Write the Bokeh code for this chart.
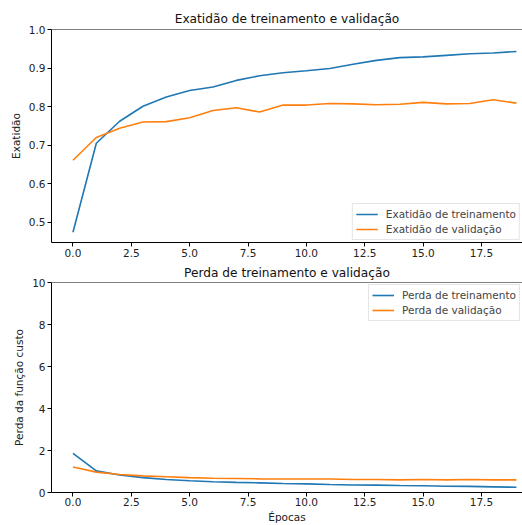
from bokeh.plotting import figure
from bokeh.layouts import column
from bokeh.models import FixedTicker, PrintfTickFormatter, Span, Range1d, Legend, LegendItem
from bokeh.embed import file_html
from bokeh.resources import INLINE

epochs = list(range(20))
acc_train = [0.474, 0.705, 0.762, 0.801, 0.825, 0.842, 0.851, 0.868, 0.880, 0.888,
             0.893, 0.899, 0.910, 0.920, 0.927, 0.929, 0.933, 0.937, 0.939, 0.943]
acc_val = [0.661, 0.720, 0.744, 0.760, 0.761, 0.771, 0.790, 0.797, 0.786, 0.804,
           0.804, 0.808, 0.807, 0.805, 0.806, 0.811, 0.807, 0.808, 0.818, 0.809]
loss_train = [1.86, 1.03, 0.83, 0.71, 0.62, 0.56, 0.51, 0.48, 0.46, 0.43,
              0.41, 0.38, 0.36, 0.35, 0.33, 0.32, 0.30, 0.29, 0.27, 0.25]
loss_val = [1.21, 0.97, 0.86, 0.79, 0.75, 0.71, 0.68, 0.67, 0.65, 0.64,
            0.64, 0.64, 0.62, 0.62, 0.60, 0.62, 0.60, 0.62, 0.60, 0.60]
x_ticks = [0, 2.5, 5, 7.5, 10, 12.5, 15, 17.5]
acc_ticks = [0.5, 0.6, 0.7, 0.8, 0.9, 1.0]
loss_ticks = [0, 2, 4, 6, 8, 10]

BLUE = "#1f77b4"
ORANGE = "#ff7f0e"
FONT = "DejaVu Sans"


def style(p, yticks, yfmt):
    p.outline_line_color = None
    p.xgrid.visible = False
    p.ygrid.visible = False
    p.title.text_font = FONT
    p.title.text_font_size = "12.2px"
    p.title.text_font_style = "normal"
    p.title.text_color = "#111111"
    p.title.align = "center"
    p.title.standoff = 7
    p.xaxis.ticker = FixedTicker(ticks=x_ticks)
    p.xaxis.formatter = PrintfTickFormatter(format="%.1f")
    p.yaxis.ticker = FixedTicker(ticks=yticks)
    p.yaxis.formatter = PrintfTickFormatter(format=yfmt)
    for ax in (p.xaxis, p.yaxis):
        ax.axis_line_color = "black"
        ax.major_tick_line_color = "black"
        ax.minor_tick_line_color = None
        ax.major_tick_in = 0
        ax.major_tick_out = 4
        ax.major_label_text_font = FONT
        ax.major_label_text_font_size = "10.5px"
        ax.major_label_text_color = "#222222"
        ax.axis_label_text_font = FONT
        ax.axis_label_text_font_size = "10.5px"
        ax.axis_label_text_font_style = "normal"
        ax.axis_label_text_color = "#222222"
        ax.major_label_standoff = 2
        ax.axis_label_standoff = 4
    p.add_layout(Span(location=p.y_range.end, dimension="width", line_color="black", line_width=1))


def legend(p, items, loc):
    lg = Legend(items=items, location=loc)
    lg.label_text_font = FONT
    lg.label_text_font_size = "10.5px"
    lg.label_height = 14
    lg.glyph_height = 14
    lg.glyph_width = 22
    lg.label_standoff = 8
    lg.spacing = 1
    lg.padding = 3
    lg.margin = 2
    lg.border_line_color = "#cccccc"
    lg.background_fill_alpha = 0.8
    p.add_layout(lg)


p1 = figure(width=522, height=259, output_backend="svg", toolbar_location=None,
            title="Exatidão de treinamento e validação",
            x_range=Range1d(-0.92, 19.26), y_range=Range1d(0.4476, 1.0),
            min_border_left=51, min_border_right=0, min_border_top=29, min_border_bottom=0)
style(p1, acc_ticks, "%.1f")
p1.yaxis.axis_label = "Exatidão"
r1 = p1.line(epochs, acc_train, line_color=BLUE, line_width=1.6)
r2 = p1.line(epochs, acc_val, line_color=ORANGE, line_width=1.6)
legend(p1, [LegendItem(label="Exatidão de treinamento", renderers=[r1]),
            LegendItem(label="Exatidão de validação", renderers=[r2])], "bottom_right")

p2 = figure(width=522, height=266, output_backend="svg", toolbar_location=None,
            title="Perda de treinamento e validação",
            x_range=Range1d(-0.92, 19.26), y_range=Range1d(0, 10),
            min_border_left=51, min_border_right=0, min_border_top=23, min_border_bottom=0)
style(p2, loss_ticks, "%d")
p2.title.standoff = 6
p2.yaxis.axis_label = "Perda da função custo"
p2.xaxis.axis_label = "Épocas"
p2.xaxis.major_label_standoff = 1
p2.xaxis.axis_label_standoff = 2
r3 = p2.line(epochs, loss_train, line_color=BLUE, line_width=1.6)
r4 = p2.line(epochs, loss_val, line_color=ORANGE, line_width=1.6)
legend(p2, [LegendItem(label="Perda de treinamento", renderers=[r3]),
            LegendItem(label="Perda de validação", renderers=[r4])], "top_right")

layout = column(p1, p2, spacing=0)
open("out.html", "w").write(file_html(layout, INLINE))
